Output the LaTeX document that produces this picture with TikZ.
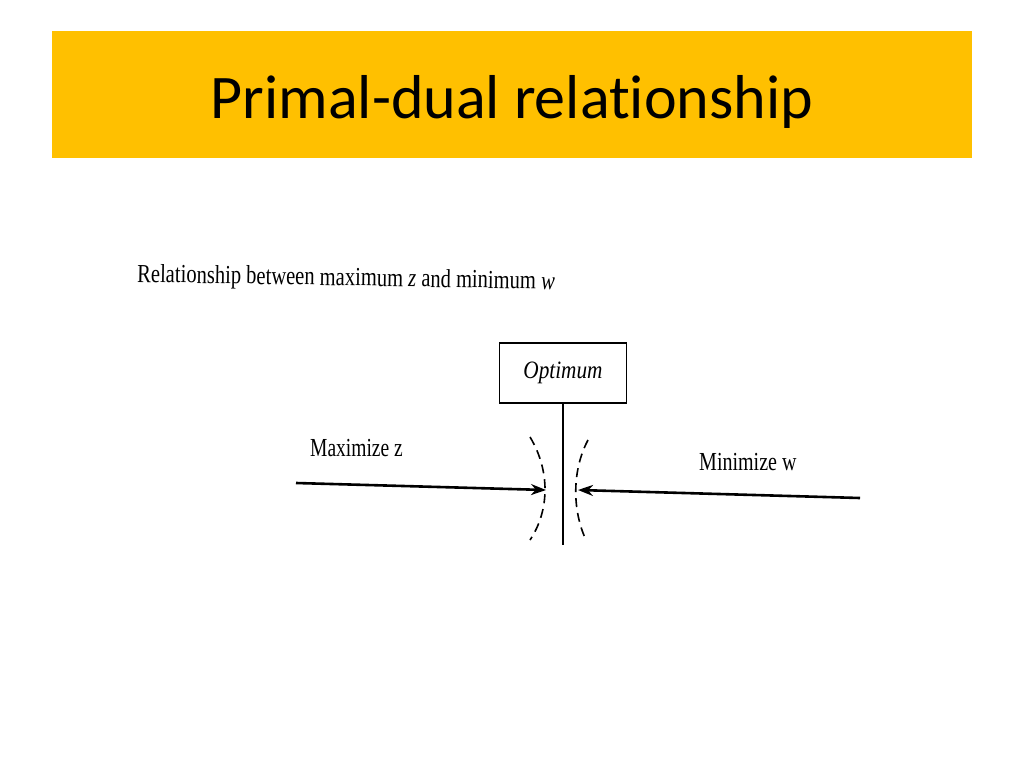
\documentclass[tikz,border=0pt]{standalone}
\usepackage{fontspec}
\setmainfont{Liberation Serif}
\newfontfamily\titlefont[Ligatures=NoCommon]{Carlito}
\usetikzlibrary{arrows.meta}
\newcommand{\schmal}[2]{\scalebox{#1}[1]{#2}}
\begin{document}
\begin{tikzpicture}[x=1pt,y=-1pt,
	scan/.style={font=\fontsize{26}{28}\selectfont, inner sep=0pt, anchor=base west},
	pfeil/.style={line width=2.6pt,-{Stealth[length=15pt,width=11pt]}},
	bogen/.style={line width=1.6pt, dash pattern=on 9pt off 6pt}]
	\useasboundingbox (0,0) rectangle (1024,768); % Rahmen
	\fill[color={rgb,255:red,255;green,192;blue,0}] (52,31) rectangle (972,158); % Titelband
	\node[anchor=base, inner sep=0pt] (titel) at (512,118) {\titlefont\fontsize{62}{70}\selectfont Primal-dual relationship};
	% Ueberschrift
	\node[scan, rotate=-1] (kopf) at (137,282) {\schmal{0.79}{Relationship between maximum \textit{z} and minimum \textit{w}}};
	% Optimum
	\node[draw, line width=1.4pt, minimum width=127pt, minimum height=60pt, font=\itshape\fontsize{25}{27}\selectfont] (opt) at (563,373) {\schmal{0.85}{Optimum}};
	\coordinate (fuss) at (563,545);
	\draw[line width=1.5pt] (opt.south) -- (fuss); % Stiel
	% gestrichelte Boegen
	\coordinate (bl) at (546,490);
	\coordinate (br) at (578,490);
	\draw[bogen] (530,437) .. controls (550,470) and (550,510) .. (530,540);
	\draw[bogen] (588,440) .. controls (572,470) and (572,510) .. (586,540);
	% Pfeile
	\coordinate (links) at (296,483);
	\coordinate (rechts) at (860,498);
	\draw[pfeil] (links) -- (bl);
	\draw[pfeil] (rechts) -- (br);
	\node[scan] (max) at (310,456) {\schmal{0.75}{Maximize z}};
	\node[scan] (min) at (699,470) {\schmal{0.77}{Minimize w}};
\end{tikzpicture}
\end{document}
